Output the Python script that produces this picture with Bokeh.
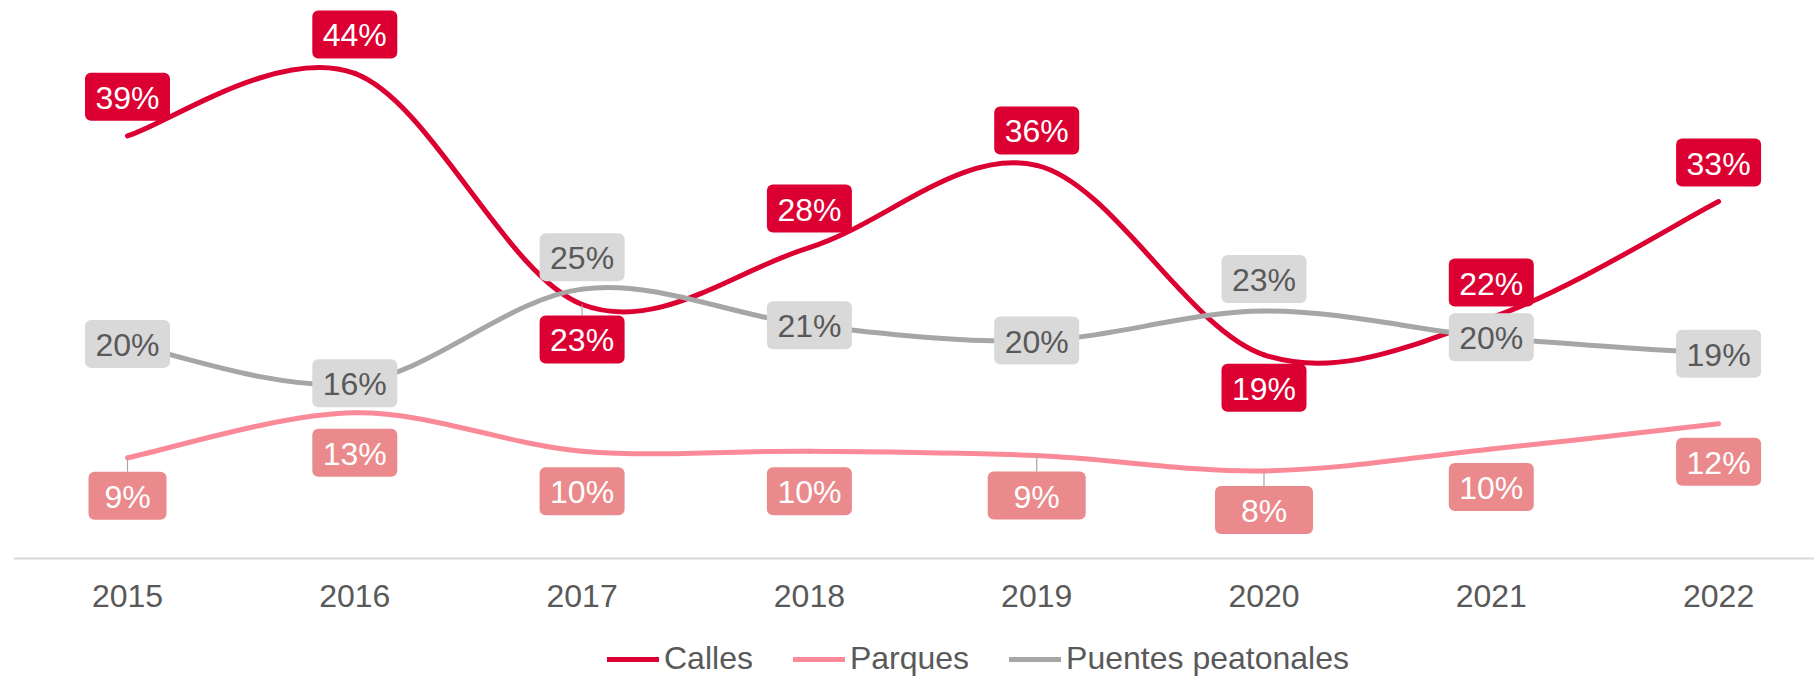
from bokeh.plotting import figure
from bokeh.models import Range1d, Legend, LegendItem, FixedTicker, ColumnDataSource
from bokeh.core.properties import value
from bokeh.embed import file_html
from bokeh.resources import INLINE

# ---------------- data ----------------
years = ["2015", "2016", "2017", "2018", "2019", "2020", "2021", "2022"]
calles = [38.6, 44.3, 23.2, 28.4, 35.9, 18.6, 22.0, 32.6]
parques = [9.2, 13.3, 9.8, 9.8, 9.4, 8.0, 10.0, 12.3]
puentes = [19.6, 16.0, 24.6, 21.3, 19.9, 22.6, 20.2, 18.7]
series_names = ["Calles", "Parques", "Puentes peatonales"]

# ---------------- styling ----------------
FONT = "Liberation Sans"
FS = "32px"
W, H = 1814, 677
BORDER_LEFT = 13
BORDER_TOP = 8
AXIS_Y_PX = 558          # screen row of the value 0
PX_PER_PCT = 10.95
PX_PER_CAT = 227.3
FIRST_CAT_PX = 114       # distance of first category from frame left

line_colors = ["#DC0032", "#FA8A98", "#A6A6A6"]
box_colors = ["#DC0032", "#EA8A8C", "#D9D9D9"]
text_colors = ["#FFFFFF", "#FFFFFF", "#595959"]
# label placement: screen offset in px (positive = downwards)
place = [
    [-39, -39, 35, -39, -35, 33, -35, -39],
    [38, 40, 40, 40, 40, 39, 38, 38],
    [0, 0, -32, 0, 0, -32, 0, 0],
]
box_w = [
    [85, 85, 85, 85, 85, 85, 85, 85],
    [78, 85, 85, 85, 98, 98, 85, 85],
    [85, 85, 85, 85, 85, 85, 85, 85],
]
leaders = [[2], [0, 4, 5], []]
BOX_H = 48

x_start = -FIRST_CAT_PX / PX_PER_CAT
x_end = x_start + (W - BORDER_LEFT) / PX_PER_CAT
y_end = (AXIS_Y_PX - BORDER_TOP) / PX_PER_PCT
y_start = -(H - AXIS_Y_PX) / PX_PER_PCT

p = figure(width=W, height=H, output_backend="svg", toolbar_location=None,
           x_range=Range1d(x_start, x_end), y_range=Range1d(y_start, y_end),
           y_axis_location=None, min_border_left=BORDER_LEFT, min_border_right=0,
           min_border_top=BORDER_TOP, min_border_bottom=0)
p.outline_line_color = None
p.grid.visible = False
p.background_fill_color = "white"

xax = p.xaxis[0]
xax.fixed_location = 0
xax.ticker = FixedTicker(ticks=list(range(len(years))))
xax.major_label_overrides = {i: y for i, y in enumerate(years)}
xax.major_label_text_font = FONT
xax.major_label_text_font_size = FS
xax.major_label_text_color = "#595959"
xax.major_label_standoff = 26
xax.major_tick_out = 0
xax.major_tick_in = 0
xax.major_tick_line_color = None
xax.minor_tick_line_color = None
xax.axis_line_color = "#D9D9D9"
xax.axis_line_width = 2


def smooth_segments(vals):
    n = len(vals)
    xs = list(range(n))
    d = dict(x0=[], y0=[], x1=[], y1=[], cx0=[], cy0=[], cx1=[], cy1=[])
    for i in range(n - 1):
        px, py = (xs[i - 1], vals[i - 1]) if i > 0 else (xs[i], vals[i])
        nx, ny = (xs[i + 2], vals[i + 2]) if i + 2 < n else (xs[i + 1], vals[i + 1])
        d["x0"].append(xs[i]); d["y0"].append(vals[i])
        d["x1"].append(xs[i + 1]); d["y1"].append(vals[i + 1])
        d["cx0"].append(xs[i] + (xs[i + 1] - px) / 6)
        d["cy0"].append(vals[i] + (vals[i + 1] - py) / 6)
        d["cx1"].append(xs[i + 1] - (nx - xs[i]) / 6)
        d["cy1"].append(vals[i + 1] - (ny - vals[i]) / 6)
    return ColumnDataSource(d)


all_series = [calles, parques, puentes]
renderers = []
for k, vals in enumerate(all_series):
    r = p.bezier(x0="x0", y0="y0", x1="x1", y1="y1", cx0="cx0", cy0="cy0",
                 cx1="cx1", cy1="cy1", source=smooth_segments(vals),
                 line_color=line_colors[k], line_width=5, line_cap="round")
    renderers.append(r)

# leader lines
for k, vals in enumerate(all_series):
    for i in leaders[k]:
        off = place[k][i]
        sign = 1 if off > 0 else -1
        edge = vals[i] - (off - sign * BOX_H / 2) / PX_PER_PCT
        p.segment(x0=[i], y0=[vals[i]], x1=[i], y1=[edge],
                  line_color="#A6A6A6", line_width=1.2)

# data labels
for k, vals in enumerate(all_series):
    src = ColumnDataSource(dict(
        x=list(range(len(vals))),
        y=[v - place[k][i] / PX_PER_PCT for i, v in enumerate(vals)],
        w=box_w[k],
        t=[f"{round(v)}%" for v in vals],
    ))
    p.rect(x="x", y="y", width="w", height=BOX_H, width_units="screen",
           height_units="screen", source=src, fill_color=box_colors[k],
           line_color=None, border_radius=6)
    p.text(x="x", y="y", text="t", source=src, text_font=value(FONT),
           text_font_size=FS, text_color=text_colors[k],
           text_align="center", text_baseline="middle", y_offset=1)

legend = Legend(items=[LegendItem(label=series_names[k], renderers=[renderers[k]])
                       for k in range(3)],
                orientation="horizontal", location=(594, 0),
                glyph_width=52, glyph_height=30, label_height=30,
                label_standoff=5, spacing=40, padding=0, margin=0,
                border_line_color=None, background_fill_alpha=0,
                label_text_font=FONT, label_text_font_size=FS,
                label_text_color="#595959")
p.add_layout(legend, "center")

open("out.html", "w").write(file_html(p, INLINE))
